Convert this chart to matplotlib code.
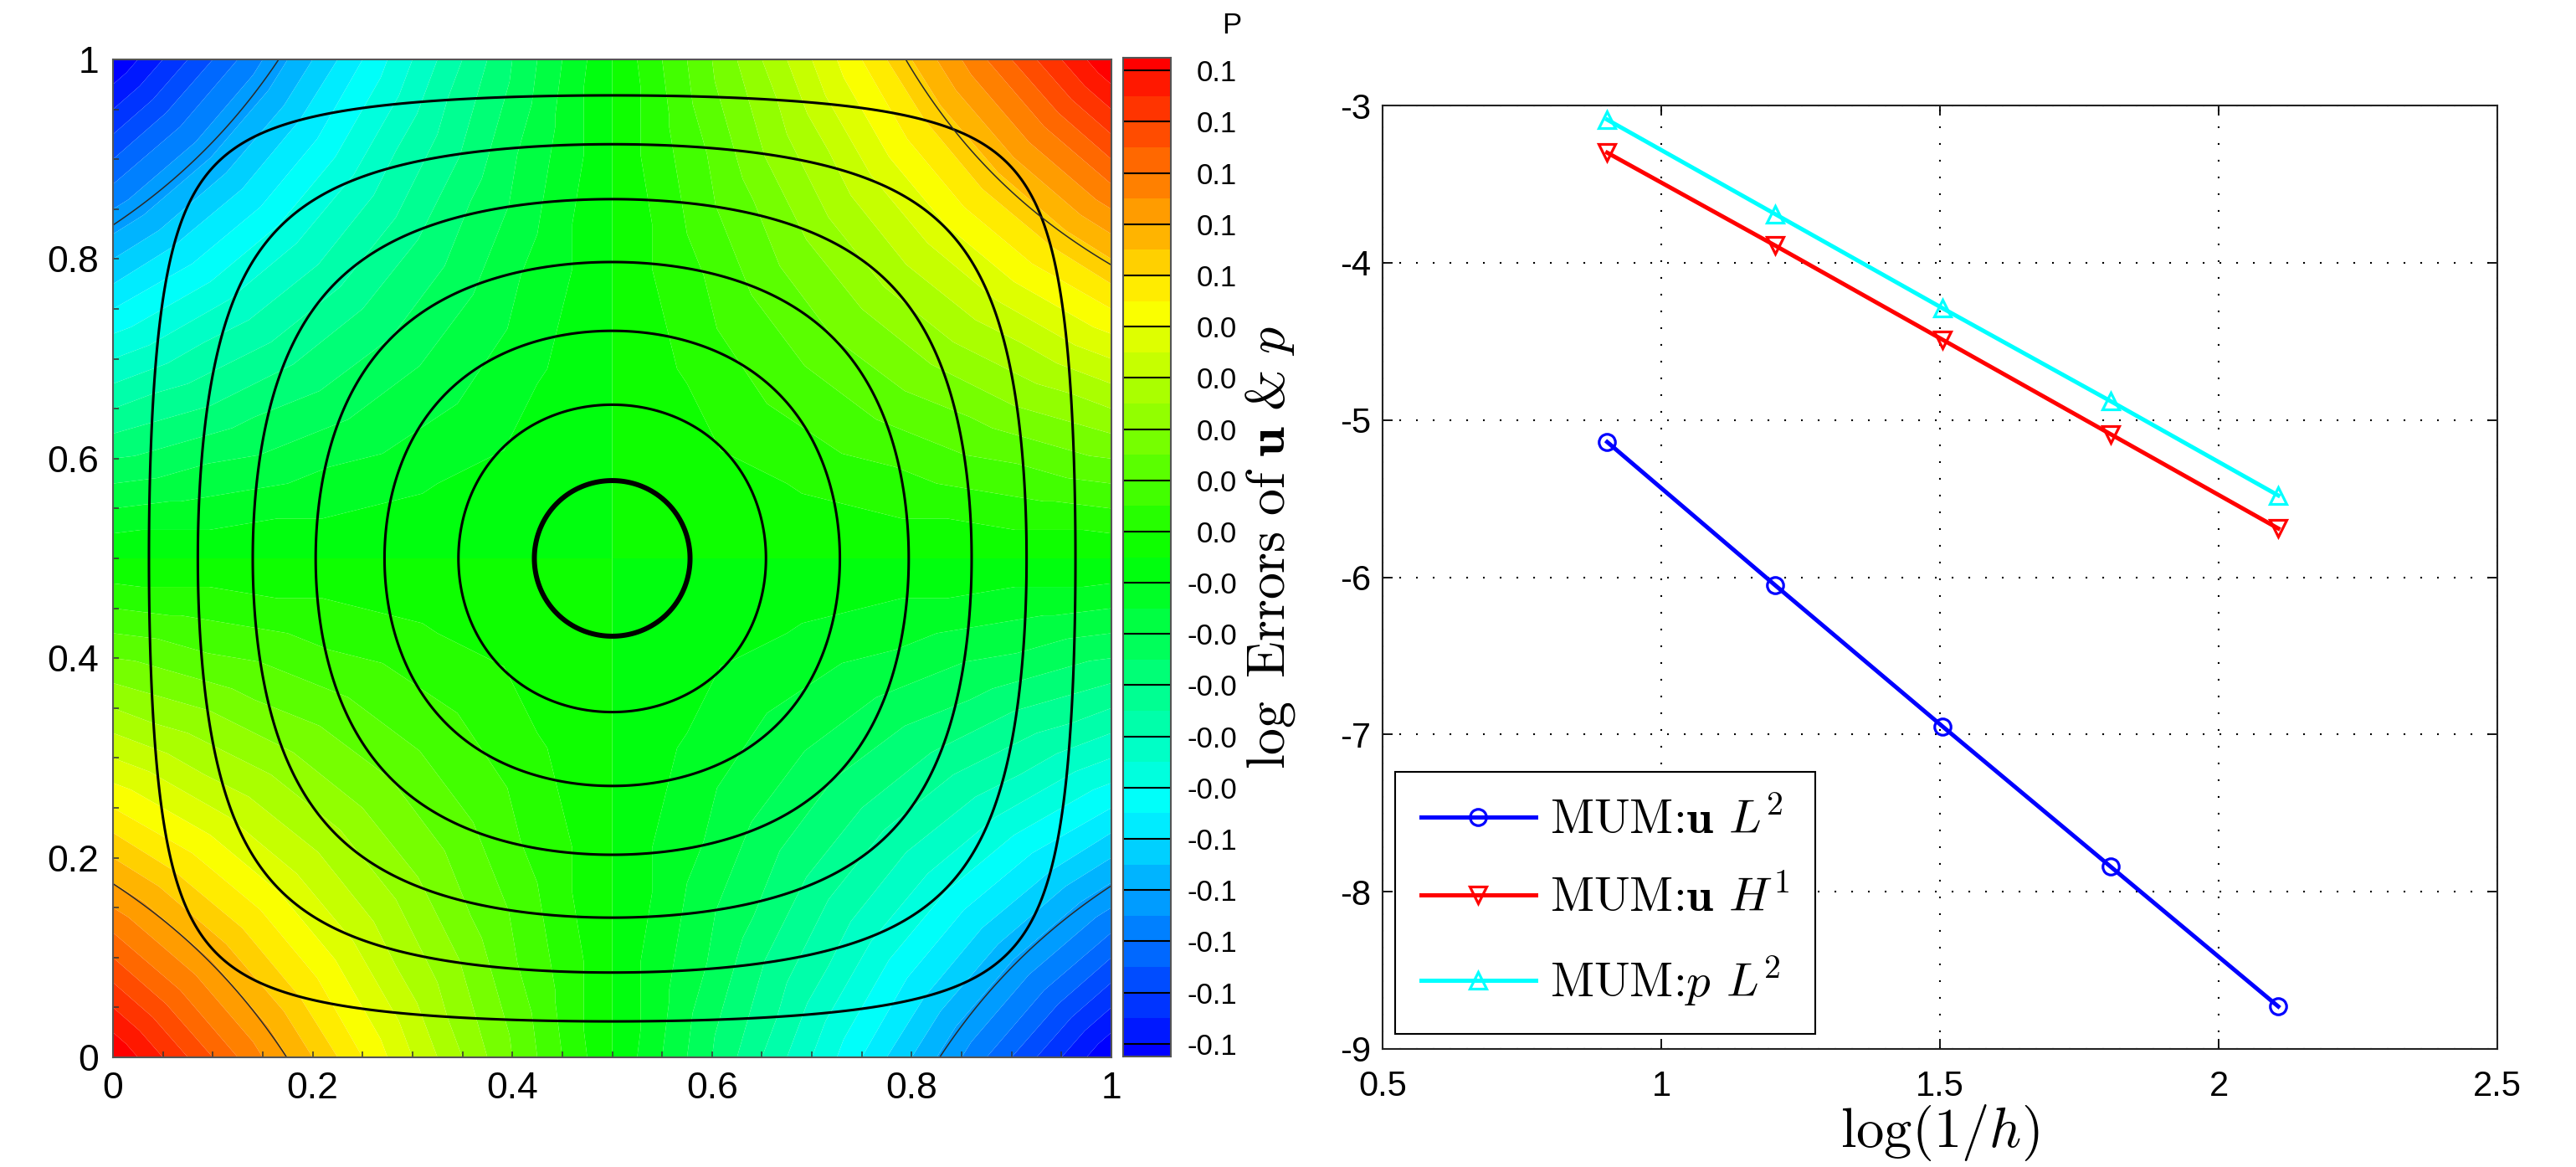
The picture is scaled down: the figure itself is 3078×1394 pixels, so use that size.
import numpy as np
import matplotlib
matplotlib.use('Agg')
import matplotlib.pyplot as plt
import matplotlib.tri as mtri
from matplotlib.colors import LinearSegmentedColormap, ListedColormap
from matplotlib.ticker import FixedLocator, FixedFormatter, MultipleLocator

# ---------------- data: left panel (pressure field + streamline contours) ----------------
p_amplitude = 0.4                     # p = p_amplitude * (x-0.5) * (y-0.5)
mesh_nodes = 17                       # nodes per side of the FE-like mesh
stream_levels = [0.00868, 0.01944, 0.0301, 0.04045, 0.0495, 0.05657]   # levels of x(1-x)y(1-y)
stream_thick_levels = [0.06098]
corner_levels = {'tr': 0.147, 'bl': 0.163, 'tl': -0.167, 'br': -0.164}  # thin corner lines
legend_line_levels = [-0.095, -0.085, -0.075, -0.065, -0.055, -0.045, -0.035, -0.025, -0.015, -0.005,
                      0.005, 0.015, 0.025, 0.035, 0.045, 0.055, 0.065, 0.075, 0.085, 0.095]
cbar_tick_labels = ['-0.1'] * 5 + ['-0.0'] * 5 + ['0.0'] * 5 + ['0.1'] * 5
cbar_range = (-0.0975, 0.0975)
cmap_colors = ['#0000ff', '#00ffff', '#00ff00', '#ffff00', '#ff0000']
left_ticks = [0, 0.2, 0.4, 0.6, 0.8, 1]
left_ticklabels = ['0', '0.2', '0.4', '0.6', '0.8', '1']

# ---------------- data: right panel (convergence) ----------------
log_inv_h = [0.903, 1.204, 1.505, 1.806, 2.107]
err_u_L2 = [-5.14, -6.05, -6.95, -7.84, -8.73]
err_u_H1 = [-3.30, -3.89, -4.49, -5.09, -5.69]
err_p_L2 = [-3.09, -3.69, -4.29, -4.88, -5.48]
series_labels = [r'MUM:$\mathbf{u}$ $L^2$',
                 r'MUM:$\mathbf{u}$ $H^1$',
                 r'MUM:$p$ $L^2$']
right_xticks = [0.5, 1, 1.5, 2, 2.5]
right_xticklabels = ['0.5', '1', '1.5', '2', '2.5']
right_yticks = [-9, -8, -7, -6, -5, -4, -3]
right_yticklabels = ['-9', '-8', '-7', '-6', '-5', '-4', '-3']
xlabel_text = r'$\log(1/h)$'
ylabel_text = r'$\log\ \mathrm{Errors\ of}\ \mathbf{u}\ $&$\ p$'

plt.rcParams['font.family'] = ['Liberation Sans', 'DejaVu Sans']
plt.rcParams['mathtext.fontset'] = 'cm'
plt.rcParams['axes.unicode_minus'] = False
serif = ['cmr10', 'DejaVu Serif']

W, H = 3078, 1394
fig = plt.figure(figsize=(W / 100, H / 100), dpi=100)

def frac(x0, y0, x1, y1):
    return [x0 / W, 1 - y1 / H, (x1 - x0) / W, (y1 - y0) / H]

# ---------------- left panel ----------------
ax = fig.add_axes(frac(135, 71, 1328, 1263))
cax = fig.add_axes(frac(1342, 69, 1399, 1262))

cmap = LinearSegmentedColormap.from_list('tec', cmap_colors)
fill_levels = np.round(np.linspace(-0.1, 0.1, 41), 4)
fill_levels[0] -= 1e-4
fill_levels[-1] += 1e-4
centers = 0.5 * (fill_levels[:-1] + fill_levels[1:])
band_colors = cmap(np.clip((centers - cbar_range[0]) / (cbar_range[1] - cbar_range[0]), 0, 1))

# coarse triangulated mesh (linear interpolation gives faceted bands)
g = np.linspace(0, 1, mesh_nodes)
NX, NY = np.meshgrid(g, g)
tris = []
n = mesh_nodes
for j in range(n - 1):
    for i in range(n - 1):
        a = j * n + i
        b = a + 1
        c = a + n
        d = c + 1
        if (i + j) % 2 == 0:
            tris += [[a, b, d], [a, d, c]]
        else:
            tris += [[a, b, c], [b, d, c]]
tri = mtri.Triangulation(NX.ravel(), NY.ravel(), np.array(tris))
p_nodes = p_amplitude * (NX.ravel() - 0.5) * (NY.ravel() - 0.5)
ax.tricontourf(tri, p_nodes, levels=fill_levels, colors=band_colors, antialiased=True)

# streamline-like contours
gf = np.linspace(0, 1, 401)
FX, FY = np.meshgrid(gf, gf)
psi = FX * (1 - FX) * FY * (1 - FY)
ax.contour(FX, FY, psi, levels=stream_levels, colors='k', linewidths=2.2)
ax.contour(FX, FY, psi, levels=stream_thick_levels, colors='k', linewidths=4.3)

hq = (FX - 0.5) * (FY - 0.5)
masks = {'tr': (FX >= 0.5) & (FY >= 0.5), 'bl': (FX <= 0.5) & (FY <= 0.5),
         'tl': (FX <= 0.5) & (FY >= 0.5), 'br': (FX >= 0.5) & (FY <= 0.5)}
for key, lev in corner_levels.items():
    hm = np.ma.masked_where(~masks[key], hq)
    ax.contour(FX, FY, hm, levels=[lev], colors='#2a2a2a', linewidths=1.1,
               linestyles='solid')

ax.set_xlim(0, 1)
ax.set_ylim(0, 1)
ax.xaxis.set_major_locator(FixedLocator(left_ticks))
ax.xaxis.set_major_formatter(FixedFormatter(left_ticklabels))
ax.yaxis.set_major_locator(FixedLocator(left_ticks))
ax.yaxis.set_major_formatter(FixedFormatter(left_ticklabels))
ax.xaxis.set_minor_locator(MultipleLocator(0.05))
ax.yaxis.set_minor_locator(MultipleLocator(0.05))
ax.tick_params(which='both', direction='in', length=5, width=1.1, color='#333333',
               top=False, right=False, labelsize=32, pad=12)
for s in ax.spines.values():
    s.set_color('#555555')
    s.set_linewidth(1.5)

# colorbar (Tecplot-style legend)
idx = np.arange(len(centers)).reshape(-1, 1)
cax.pcolormesh([0, 1], fill_levels, idx, cmap=ListedColormap(band_colors),
               vmin=-0.5, vmax=len(centers) - 0.5, shading='flat')
for lv in legend_line_levels:
    cax.axhline(lv, color='k', lw=1.5)
cax.set_xlim(0, 1)
cax.set_ylim(*cbar_range)
cax.set_xticks([])
cax.yaxis.tick_right()
cax.set_yticks(legend_line_levels)
cax.set_yticklabels(cbar_tick_labels)
cax.tick_params(axis='y', length=0, labelsize=25, pad=57)
for lab in cax.get_yticklabels():
    lab.set_horizontalalignment('right')
for s in cax.spines.values():
    s.set_color('#555555')
    s.set_linewidth(1.5)
fig.text(1472 / W, 1 - 30 / H, 'P', fontsize=25, ha='center', va='center')

# ---------------- right panel ----------------
ax2 = fig.add_axes(frac(1652, 126, 2984, 1253))
common = dict(lw=3.6, mfc='none', markersize=14, mew=2.3)
ax2.plot(log_inv_h, err_u_L2, color='#0000ff', marker='o', label=series_labels[0], **common)
ax2.plot(log_inv_h, err_u_H1, color='#ff0000', marker='v', label=series_labels[1], **common)
ax2.plot(log_inv_h, err_p_L2, color='#00ffff', marker='^', label=series_labels[2], **common)
ax2.set_xlim(0.5, 2.5)
ax2.set_ylim(-9, -3)
ax2.xaxis.set_major_locator(FixedLocator(right_xticks))
ax2.xaxis.set_major_formatter(FixedFormatter(right_xticklabels))
ax2.yaxis.set_major_locator(FixedLocator(right_yticks))
ax2.yaxis.set_major_formatter(FixedFormatter(right_yticklabels))
ax2.tick_params(which='major', direction='in', length=8.6, width=1.3, top=True, right=True,
                labelsize=30)
ax2.tick_params(axis='x', which='major', pad=18)
ax2.tick_params(axis='y', which='major', pad=10)
ax2.grid(True, which='major', color='k', linestyle=(0, (1, 8.6)), linewidth=1.5)
for s in ax2.spines.values():
    s.set_color('#222222')
    s.set_linewidth(1.5)
ax2.set_xlabel(xlabel_text, fontsize=48, va='top')
ax2.xaxis.set_label_coords(0.5, -0.0568)
ax2.set_ylabel(ylabel_text, fontsize=46, family=serif)
ax2.yaxis.set_label_coords(-0.0766, 0.531)
leg = ax2.legend(loc='lower left', bbox_to_anchor=(0.011, 0.016), borderaxespad=0,
                 prop={'family': serif, 'size': 41}, fancybox=False, framealpha=1,
                 edgecolor='k', handlelength=2.4, handletextpad=0.3, labelspacing=0.7,
                 borderpad=0.55)
leg.get_frame().set_linewidth(1.5)

fig.savefig('out.png', dpi=100, facecolor='white')
